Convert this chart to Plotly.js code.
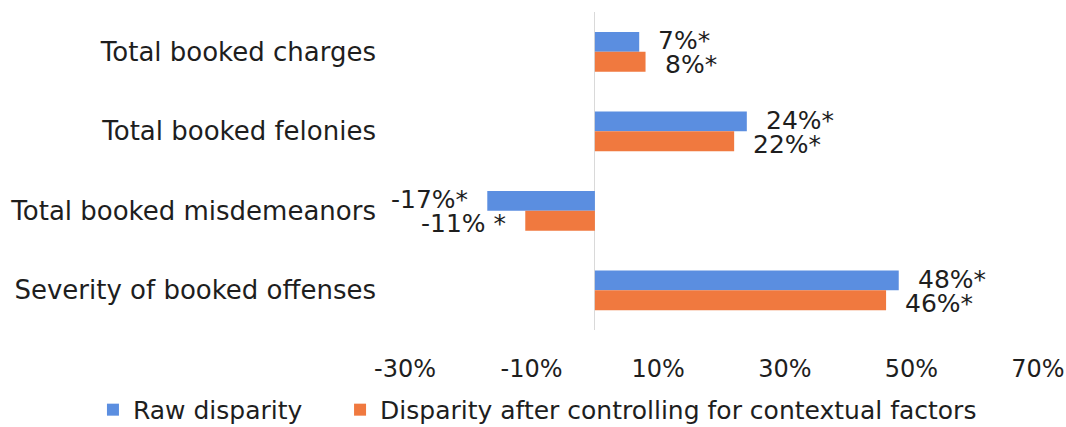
<!DOCTYPE html>
<html>
<head>
<meta charset="utf-8">
<script src="https://cdn.plot.ly/plotly-3.0.1.min.js"></script>
<style>html,body{margin:0;padding:0;background:#fff;}#chart{width:1066px;height:427px;}</style>
</head>
<body>
<div id="chart"></div>
<script>
var categories = ["Total booked charges", "Total booked felonies", "Total booked misdemeanors", "Severity of booked offenses"];
var rawValues = [7, 24, -17, 48];
var adjValues = [8, 22, -11, 46];
var rawLabels = ["7%*", "24%*", "-17%*", "48%*"];
var adjLabels = ["8%*", "22%*", "-11% *", "46%*"];
var seriesNames = ["Raw disparity", "Disparity after controlling for contextual factors"];
var tickValues = [-30, -10, 10, 30, 50, 70];
var tickLabels = ["-30%", "-10%", "10%", "30%", "50%", "70%"];

var FONT = "'DejaVu Sans', sans-serif";
var TXT = "#1e1e1e";
var blue = "#5b8ee0", orange = "#f0793f";

var traces = [
  {type: "bar", orientation: "h", name: seriesNames[0], y: categories, x: rawValues,
   marker: {color: blue}, hoverinfo: "x", legend: "legend"},
  {type: "bar", orientation: "h", name: seriesNames[1], y: categories, x: adjValues,
   marker: {color: orange}, hoverinfo: "x", legend: "legend2"}
];

var annotations = [];
function addLabels(vals, labels, yshift) {
  for (var i = 0; i < vals.length; i++) {
    var pos = vals[i] >= 0;
    annotations.push({
      x: vals[i], y: categories[i], xref: "x", yref: "y",
      text: labels[i], showarrow: false,
      xanchor: pos ? "left" : "right", yanchor: "middle",
      xshift: pos ? 17 : -17, yshift: yshift,
      height: 23, valign: "middle",
      font: {family: FONT, size: 25, color: TXT}
    });
  }
}
addLabels(rawValues, rawLabels, 11);
addLabels(adjValues, adjLabels, -13);

var legendBase = {
  orientation: "h", xref: "container", yref: "container",
  y: 0.04, xanchor: "left", yanchor: "middle",
  font: {family: FONT, size: 25, color: TXT},
  bgcolor: "rgba(0,0,0,0)", itemwidth: 30
};

var layout = {
  width: 1066, height: 427,
  margin: {l: 405, r: 28, t: 12, b: 97},
  paper_bgcolor: "#fff", plot_bgcolor: "#fff",
  barmode: "group", bargap: 0.5, bargroupgap: 0,
  font: {family: FONT, size: 25, color: TXT},
  xaxis: {
    range: [-30, 70], tickmode: "array", tickvals: tickValues, ticktext: tickLabels,
    showgrid: false, zeroline: true, zerolinecolor: "#d9d9d9", zerolinewidth: 1,
    showline: false, ticks: "", ticklabelstandoff: 22, ticklabeloverflow: "allow",
    tickfont: {family: FONT, size: 24, color: TXT}
  },
  yaxis: {
    autorange: "reversed", showgrid: false, zeroline: false, showline: false, ticks: "",
    ticklabelstandoff: 28,
    tickfont: {family: FONT, size: 26, color: TXT}
  },
  showlegend: true,
  legend: Object.assign({}, legendBase, {x: 0.0872}),
  legend2: Object.assign({}, legendBase, {x: 0.319}),
  annotations: annotations
};

Plotly.newPlot("chart", traces, layout, {displayModeBar: false, staticPlot: true});
</script>
</body>
</html>
